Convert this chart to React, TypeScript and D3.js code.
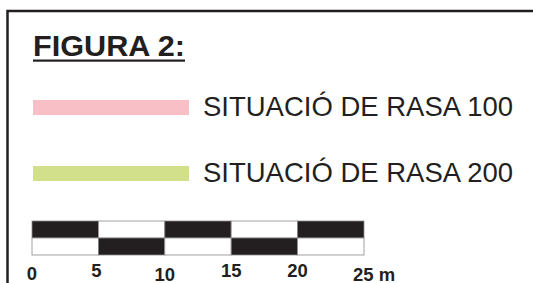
import React, { useRef, useEffect } from 'react';
import { select, scaleLinear, range } from 'd3';

const title = 'FIGURA 2:';
const legendLabels = ['SITUACIÓ DE RASA 100', 'SITUACIÓ DE RASA 200'];
const legendColors = ['#f9bfc6', '#d3e08b'];
const scaleTicks = [0, 5, 10, 15, 20, 25];
const scaleUnit = 'm';

const W = 533;
const H = 283;
const ink = '#231f20';

const App = () => {
  const svgRef = useRef<SVGSVGElement>(null);

  useEffect(() => {
    const svg = select(svgRef.current);
    svg.selectAll('*').remove();

    // frame (top and left only, the rest is cut off)
    svg.append('path')
      .attr('d', `M7.5,${H} V11 H${W}`)
      .attr('fill', 'none')
      .attr('stroke', ink)
      .attr('stroke-width', 2.5);

    // title
    svg.append('text')
      .attr('x', 33)
      .attr('y', 55.5)
      .attr('font-family', 'Liberation Sans, Arial, sans-serif')
      .attr('font-weight', 'bold')
      .attr('font-size', 29.5)
      .attr('fill', ink)
      .attr('textLength', 152)
      .attr('lengthAdjust', 'spacingAndGlyphs')
      .text(title);
    svg.append('rect')
      .attr('x', 33).attr('y', 59.5)
      .attr('width', 152).attr('height', 2.2)
      .attr('fill', ink);

    // legend
    const rowY = [100, 166];
    const lg = svg.selectAll('.leg')
      .data(legendLabels)
      .join('g')
      .attr('class', 'leg')
      .attr('transform', (d, i) => `translate(0,${rowY[i]})`);
    lg.append('rect')
      .attr('x', 33).attr('y', 0)
      .attr('width', 156).attr('height', 15)
      .attr('fill', (d, i) => legendColors[i]);
    lg.append('text')
      .attr('x', 203)
      .attr('y', 15.5)
      .attr('font-family', 'Liberation Sans, Arial, sans-serif')
      .attr('font-size', 27.5)
      .attr('fill', ink)
      .attr('textLength', 310)
      .attr('lengthAdjust', 'spacingAndGlyphs')
      .text(d => d);

    // scale bar
    const x = scaleLinear()
      .domain([scaleTicks[0], scaleTicks[scaleTicks.length - 1]])
      .range([32, 364]);
    const top = 221, mid = 238, bot = 255;
    const segs = range(scaleTicks.length - 1);
    [0, 1].forEach(row => {
      svg.append('g')
        .selectAll('rect')
        .data(segs)
        .join('rect')
        .attr('x', i => x(scaleTicks[i]))
        .attr('y', row === 0 ? top : mid)
        .attr('width', i => x(scaleTicks[i + 1]) - x(scaleTicks[i]))
        .attr('height', row === 0 ? mid - top : bot - mid)
        .attr('fill', i => ((i + row) % 2 === 0 ? ink : '#fff'))
        .attr('stroke', '#8a8a8a')
        .attr('stroke-width', 0.8);
    });

    const labelDrop = [3, 0, 4, 0, 0, 4];
    svg.append('g')
      .selectAll('text')
      .data(scaleTicks)
      .join('text')
      .attr('x', (d, i) => (i === scaleTicks.length - 1 ? x(d) - 11 : x(d) + (i === 1 ? -2 : 0)))
      .attr('y', (d, i) => 276.5 + labelDrop[i])
      .attr('text-anchor', (d, i) => (i === scaleTicks.length - 1 ? 'start' : 'middle'))
      .attr('font-family', 'Liberation Sans, Arial, sans-serif')
      .attr('font-weight', 'bold')
      .attr('font-size', 18.5)
      .attr('fill', ink)
      .text((d, i) => (i === scaleTicks.length - 1 ? `${d} ${scaleUnit}` : `${d}`));
  }, []);

  return (
    <svg
      ref={svgRef}
      width={W}
      height={H}
      style={{ position: 'absolute', left: 0, top: 0, background: '#fff' }}
    />
  );
};

export default App;
